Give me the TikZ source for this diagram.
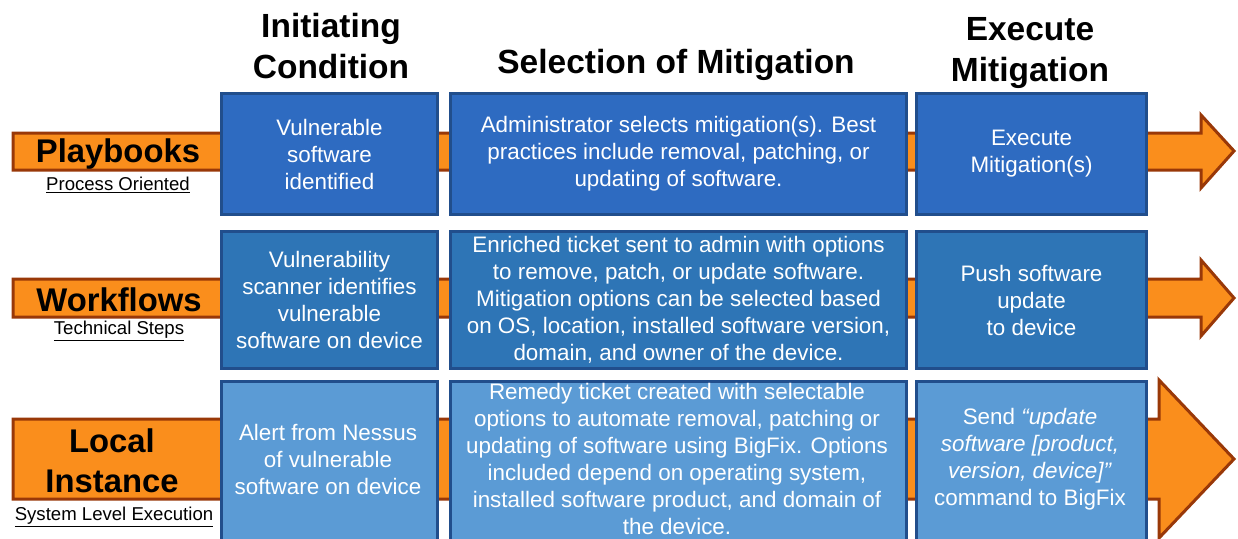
\documentclass[tikz,border=0pt]{standalone}
\usepackage{fontspec}
\setmainfont{Liberation Sans}
\begin{document}
\begin{tikzpicture}[x=1pt,y=-1pt,
  bararrow/.style={fill=barorange,draw=barbrown,line width=3pt,line join=miter},
  cell/.style={draw=cellborder,line width=3pt,anchor=north west,inner sep=0pt},
  cellA/.style={cell,fill=rowA},
  cellB/.style={cell,fill=rowB},
  cellC/.style={cell,fill=rowC},
  celltext/.style={text=white,align=center,font=\fontsize{22.4}{27}\selectfont},
  head/.style={font=\fontsize{33.5}{41}\selectfont\bfseries,align=center},
  rowname/.style={font=\fontsize{32.8}{40}\selectfont\bfseries,align=center},
  rowsub/.style={font=\fontsize{18.6}{22}\selectfont}]
\definecolor{barorange}{RGB}{250,142,28}
\definecolor{barbrown}{RGB}{153,56,8}
\definecolor{cellborder}{RGB}{33,78,140}
\definecolor{rowA}{RGB}{46,107,193}
\definecolor{rowB}{RGB}{46,117,182}
\definecolor{rowC}{RGB}{91,155,213}
\useasboundingbox (0,0) rectangle (1238,538);
\fill[white] (0,0) rectangle (1238,538);

% background arrows, one per row
\draw[bararrow] (13,133) -- (1201,133) -- (1201,115) -- (1234,151) -- (1201,188) -- (1201,170) -- (13,170) -- cycle;
\draw[bararrow] (13,279) -- (1201,279) -- (1201,260) -- (1234,298) -- (1201,336) -- (1201,317) -- (13,317) -- cycle;
\draw[bararrow] (13,419) -- (1159,419) -- (1159,380) -- (1234,459) -- (1159,538) -- (1159,499) -- (13,499) -- cycle;

% column headers
\node[head] (h1) at (331,46) {Initiating\\Condition};
\node[head] (h2) at (676,65) {Selection of Mitigation};
\node[head] (h3) at (1030,53) {Execute\\Mitigation};

% row labels
\node[rowname] (r1) at (118,154) {Playbooks};
\node[rowsub] (s1) at (118,185) {\underline{Process Oriented}};
\node[rowname] (r2) at (119,300) {Workflows};
\node[rowsub] (s2) at (119,331) {\underline{Technical Steps}};
\node[rowname] (r3) at (112,461) {Local\\Instance};
\node[rowsub] (s3) at (114,517) {\underline{System Level Execution}};

% row 1 cells
\node[cellA,minimum width=216pt,minimum height=121pt] (a1) at (220,92) {};
\node[celltext] (a1t) at (a1.center) {Vulnerable\\software\\identified};
\node[cellA,minimum width=456pt,minimum height=121pt] (a2) at (449,92) {};
\node[celltext] (a2t) at (a2.center) {Administrator selects mitigation(s). Best\\practices include removal, patching, or\\updating of software.};
\node[cellA,minimum width=230pt,minimum height=121pt] (a3) at (915,92) {};
\node[celltext] (a3t) at (a3.center) {Execute\\Mitigation(s)};

% row 2 cells
\node[cellB,minimum width=216pt,minimum height=137pt] (b1) at (220,230) {};
\node[celltext] (b1t) at (b1.center) {Vulnerability\\scanner identifies\\vulnerable\\software on device};
\node[cellB,minimum width=456pt,minimum height=137pt] (b2) at (449,230) {};
\node[celltext] (b2t) at (b2.center) {Enriched ticket sent to admin with options\\to remove, patch, or update software.\\Mitigation options can be selected based\\on OS, location, installed software version,\\domain, and owner of the device.};
\node[cellB,minimum width=230pt,minimum height=137pt] (b3) at (915,230) {};
\node[celltext] (b3t) at (b3.center) {Push software\\update\\to device};

% row 3 cells (run past the lower edge)
\node[cellC,minimum width=216pt,minimum height=170pt] (c1) at (220,380) {};
\node[celltext] (c1t) at (328,459) {Alert from Nessus\\of vulnerable\\software on device};
\node[cellC,minimum width=456pt,minimum height=170pt] (c2) at (449,380) {};
\node[celltext] (c2t) at (677,459) {Remedy ticket created with selectable\\options to automate removal, patching or\\updating of software using BigFix. Options\\included depend on operating system,\\installed software product, and domain of\\the device.};
\node[cellC,minimum width=230pt,minimum height=170pt] (c3) at (915,380) {};
\node[celltext] (c3t) at (1030,459) {Send \textit{``update}\\\textit{software [product,}\\\textit{version, device]''}\\command to BigFix};
\end{tikzpicture}
\end{document}
